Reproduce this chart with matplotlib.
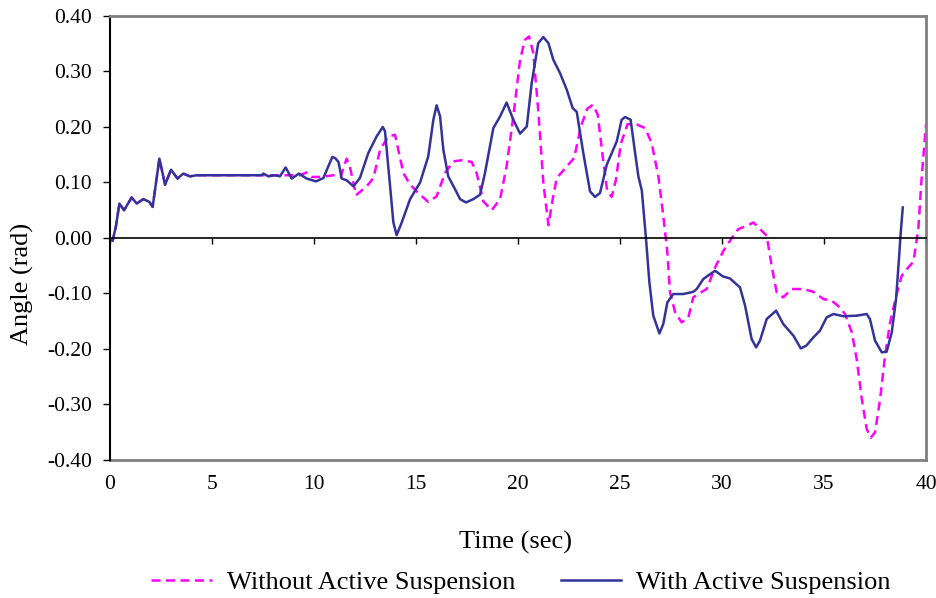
import numpy as np
import matplotlib
matplotlib.use('Agg')
import matplotlib.pyplot as plt
from matplotlib.ticker import FormatStrFormatter

plt.rcParams['font.family'] = 'Liberation Serif'
plt.rcParams['axes.unicode_minus'] = False

# roll angle without active suspension
t_without = [0, 0.13, 0.29, 0.46, 0.69, 1.06, 1.31, 1.63, 1.93, 2.09,
             2.42, 2.70, 2.99, 3.31, 3.59, 3.92, 4.25,
             9.30, 9.64, 9.87, 10.28, 10.96, 11.30, 11.60, 11.76, 12.06, 12.58,
             12.91, 13.24, 13.64, 13.97, 14.13, 14.38, 14.71, 15.11, 15.60, 16.01,
             16.42, 16.83, 17.24, 17.73, 17.97, 18.30, 18.71, 19.12, 19.44, 19.77,
             20.10, 20.34, 20.54, 20.75, 20.99, 21.24, 21.49, 21.70, 21.90, 22.39,
             22.75, 23.08, 23.40, 23.67, 23.91, 24.14, 24.37, 24.59, 24.80, 25.04,
             25.37, 25.74, 26.23, 26.55, 26.88, 27.12, 27.32, 27.45, 27.70, 28.02,
             28.35, 28.59, 28.92, 29.25, 29.66, 30.07, 30.48, 30.80, 31.29, 31.54,
             31.86, 32.19, 32.43, 32.68, 33.00, 33.41, 33.99, 34.48, 34.97, 35.38,
             35.78, 36.03, 36.36, 36.60, 36.85, 37.09, 37.29, 37.50, 37.75, 37.99,
             38.24, 38.56, 38.81, 39.13, 39.38, 39.62, 39.79, 40.00]
a_without = [-0.002, -0.005, 0.021, 0.062, 0.050, 0.073, 0.062, 0.070, 0.065, 0.056,
             0.143, 0.096, 0.123, 0.107, 0.116, 0.111, 0.113,
             0.113, 0.118, 0.110, 0.110, 0.113, 0.110, 0.143, 0.128, 0.077, 0.093,
             0.108, 0.159, 0.183, 0.186, 0.159, 0.117, 0.096, 0.081, 0.065, 0.075,
             0.117, 0.138, 0.140, 0.137, 0.117, 0.066, 0.050, 0.070, 0.129, 0.219,
             0.321, 0.357, 0.363, 0.333, 0.231, 0.100, 0.023, 0.070, 0.108, 0.129,
             0.144, 0.201, 0.233, 0.240, 0.222, 0.150, 0.085, 0.074, 0.105, 0.170,
             0.205, 0.206, 0.198, 0.171, 0.111, 0.040, -0.026, -0.098, -0.134, -0.152,
             -0.143, -0.107, -0.099, -0.092, -0.053, -0.023, 0.000, 0.016, 0.023, 0.028,
             0.016, 0.004, -0.050, -0.098, -0.107, -0.092, -0.092, -0.097, -0.110, -0.113,
             -0.125, -0.137, -0.170, -0.218, -0.290, -0.344, -0.360, -0.350, -0.290, -0.212,
             -0.152, -0.101, -0.068, -0.053, -0.043, 0.016, 0.111, 0.205]

# roll angle with active suspension
t_with = [0, 0.13, 0.29, 0.46, 0.69, 1.06, 1.31, 1.63, 1.93, 2.09,
          2.42, 2.70, 2.99, 3.31, 3.59, 3.92, 4.25, 7.43, 7.52, 7.76,
          8.09, 8.33, 8.61, 8.91, 9.26, 9.64, 10.10, 10.46, 10.70, 10.90,
          11.03, 11.20, 11.36, 11.60, 11.93, 12.25, 12.66, 13.07, 13.37, 13.48,
          13.73, 13.89, 14.05, 14.30, 14.71, 15.20, 15.60, 15.85, 16.01, 16.18,
          16.34, 16.58, 16.91, 17.16, 17.45, 17.81, 18.14, 18.38, 18.79, 19.12,
          19.44, 19.77, 20.10, 20.43, 20.67, 20.99, 21.24, 21.49, 21.73, 22.06,
          22.39, 22.68, 22.88, 23.20, 23.53, 23.77, 24.02, 24.35, 24.84, 25.08,
          25.25, 25.52, 25.74, 25.90, 26.07, 26.27, 26.44, 26.63, 26.93, 27.12,
          27.32, 27.61, 28.10, 28.59, 28.76, 29.08, 29.66, 30.03, 30.39, 30.88,
          31.13, 31.45, 31.67, 31.86, 32.19, 32.65, 33.00, 33.50, 33.86, 34.13,
          34.48, 34.80, 35.13, 35.46, 35.95, 36.60, 37.09, 37.25, 37.50, 37.83,
          38.07, 38.32, 38.53, 38.65, 38.76, 38.86]
a_with = [-0.002, -0.005, 0.021, 0.062, 0.050, 0.073, 0.062, 0.070, 0.065, 0.056,
          0.143, 0.096, 0.123, 0.107, 0.116, 0.111, 0.113, 0.113, 0.116, 0.111,
          0.113, 0.111, 0.127, 0.107, 0.116, 0.107, 0.102, 0.108, 0.129, 0.146,
          0.144, 0.137, 0.107, 0.104, 0.093, 0.108, 0.153, 0.183, 0.200, 0.192,
          0.093, 0.028, 0.005, 0.028, 0.070, 0.100, 0.147, 0.213, 0.239, 0.219,
          0.159, 0.111, 0.088, 0.070, 0.064, 0.070, 0.078, 0.117, 0.198, 0.219,
          0.244, 0.213, 0.188, 0.201, 0.279, 0.351, 0.362, 0.351, 0.321, 0.297,
          0.267, 0.234, 0.227, 0.153, 0.084, 0.074, 0.081, 0.132, 0.174, 0.213,
          0.218, 0.213, 0.153, 0.111, 0.085, 0.000, -0.080, -0.140, -0.172, -0.155,
          -0.116, -0.101, -0.101, -0.097, -0.092, -0.074, -0.059, -0.069, -0.073, -0.089,
          -0.122, -0.182, -0.197, -0.185, -0.146, -0.131, -0.155, -0.176, -0.199, -0.194,
          -0.179, -0.167, -0.143, -0.137, -0.141, -0.140, -0.137, -0.146, -0.185, -0.206,
          -0.205, -0.170, -0.110, -0.050, 0.010, 0.055]

x_ticks = [0, 5, 10, 15, 20, 25, 30, 35, 40]
y_ticks = [-0.4, -0.3, -0.2, -0.1, 0.0, 0.1, 0.2, 0.3, 0.4]

fig = plt.figure(figsize=(9.37, 5.98), dpi=100)
ax = fig.add_axes([0.1174, 0.2308, 0.8709, 0.7425])

ax.plot(t_without, a_without, color='#FF00FF', lw=1.8, dashes=(3.6, 2.2),
        dash_joinstyle='round', label='Without Active Suspension')
ax.plot(t_with, a_with, color='#333399', lw=1.8, solid_joinstyle='round',
        label='With Active Suspension')

ax.set_xlim(0, 40)
ax.set_ylim(-0.4, 0.4)
ax.set_yticks(y_ticks)
ax.yaxis.set_major_formatter(FormatStrFormatter('%.2f'))
ax.set_xticks(x_ticks)

# zero line carries the x ticks, labels go on the bottom frame
ax.spines['bottom'].set_position(('data', 0))
ax.spines['bottom'].set_color('black')
ax.spines['bottom'].set_linewidth(1.2)
ax.tick_params(axis='x', direction='out', length=4, width=1, labelbottom=False)
ax.spines['left'].set_color('black')
ax.spines['left'].set_linewidth(1.5)
for s in ['top', 'right']:
    ax.spines[s].set_color('#808080')
    ax.spines[s].set_linewidth(2)
ax.tick_params(axis='y', direction='out', length=5, width=1, pad=8, labelsize=15.5)

sec = ax.secondary_xaxis('bottom')
sec.set_xticks(x_ticks)
sec.spines['bottom'].set_color('#808080')
sec.spines['bottom'].set_linewidth(2)
sec.tick_params(length=0, pad=11, labelsize=15.5)

fig.text(515.5 / 937, 1 - 542 / 598, 'Time (sec)', ha='center', va='center', fontsize=19)
fig.text(22 / 937, 1 - 284 / 598, 'Angle (rad)', ha='center', va='center',
         rotation=90, fontsize=19)

fig.legend(loc='center', bbox_to_anchor=(521 / 937, 1 - 582 / 598), ncol=2,
           frameon=False, fontsize=19, handlelength=2.3, handletextpad=0.57,
           columnspacing=1.72)

fig.savefig('out.png', dpi=100)
